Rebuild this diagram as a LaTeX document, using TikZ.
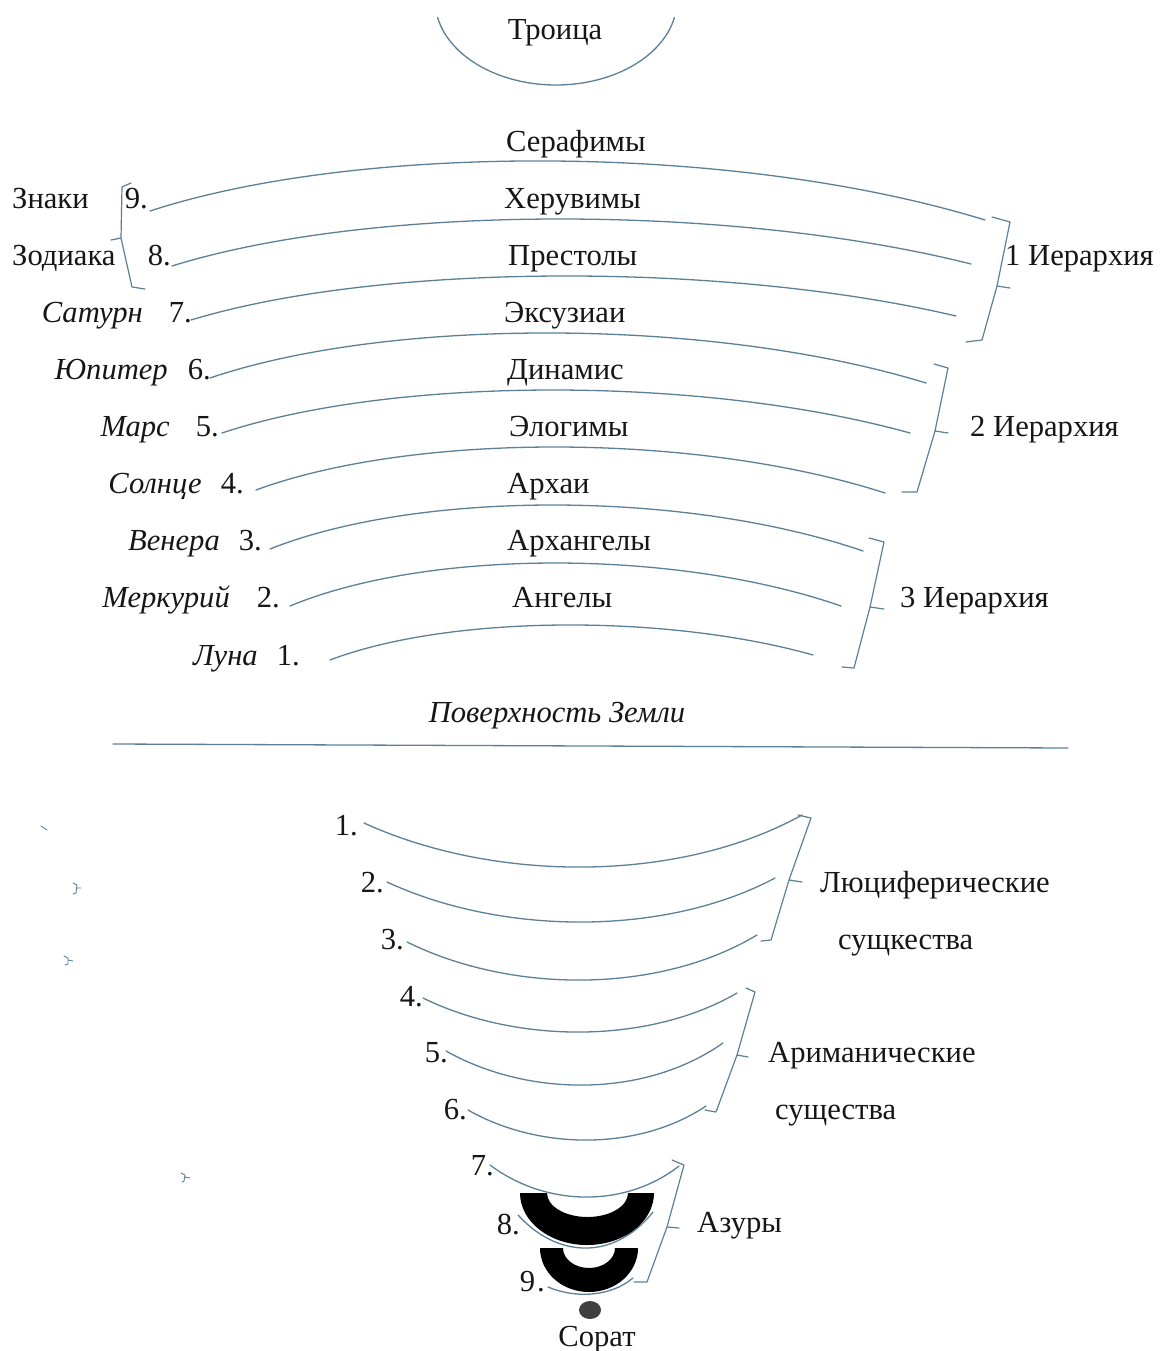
\documentclass[tikz,border=0pt]{standalone}
\usepackage{fontspec}
\setmainfont{Liberation Serif}
\definecolor{ink}{RGB}{92,128,152}
\definecolor{txt}{RGB}{22,22,22}
\newcommand\ArcCurve[5]{%
  \draw[ln] (#1,#2) .. controls ({#1+0.25*(#3-#1)},{(#5-0.125*(#2+#4))/0.75}) and ({#1+0.7*(#3-#1)},{(#5-0.125*(#2+#4))/0.75}) .. (#3,#4);}
\newcommand\BowlCurve[5]{%
  \draw[ln] (#1,#2) .. controls ({#1+0.3*(#3-#1)},{(#5-0.125*(#2+#4))/0.75}) and ({#1+0.72*(#3-#1)},{(#5-0.125*(#2+#4))/0.75}) .. (#3,#4);}
\begin{document}
\begin{tikzpicture}[x=1pt,y=-1pt,
  lbl/.style={font=\fontsize{30.6}{34}\selectfont, text=txt, inner sep=0pt},
  itl/.style={lbl, font=\fontsize{30.6}{34}\selectfont\itshape},
  ln/.style={draw=ink, line width=1.3pt, line cap=round, line join=round},
  brc/.style={draw=ink, line width=1.2pt, line cap=round, line join=round}]
\useasboundingbox (0,0) rectangle (1159,1351);
\fill[white] (0,0) rectangle (1159,1351);

% top
\node[lbl,anchor=base] (troica) at (555,40) {Троица};
\draw[ln] (556,0) ++(168:121 and 85) arc[start angle=168,end angle=12,x radius=121,y radius=85];

% hierarchy names
\node[lbl,anchor=base west] (h1) at (506,152) {Серафимы};
\node[lbl,anchor=base west] (h2) at (504,208) {Херувимы};
\node[lbl,anchor=base west] (h3) at (508,265) {Престолы};
\node[lbl,anchor=base west] (h4) at (504,322) {Эксузиаи};
\node[lbl,anchor=base west] (h5) at (507,379) {Динамис};
\node[lbl,anchor=base west] (h6) at (509,436) {Элогимы};
\node[lbl,anchor=base west] (h7) at (507,493) {Архаи};
\node[lbl,anchor=base west] (h8) at (507,550) {Архангелы};
\node[lbl,anchor=base west] (h9) at (512,607) {Ангелы};

% left labels
\node[lbl,anchor=base west] (zn) at (12,208) {Знаки};
\node[lbl,anchor=base west] (zd) at (12,265) {Зодиака};
\node[itl,anchor=base east] (p7) at (143,322) {Сатурн};
\node[itl,anchor=base east] (p6) at (168,379) {Юпитер};
\node[itl,anchor=base east] (p5) at (170,436) {Марс};
\node[itl,anchor=base east] (p4) at (202,493) {Солнце};
\node[itl,anchor=base east] (p3) at (220,550) {Венера};
\node[itl,anchor=base east] (p2) at (230,607) {Меркурий};
\node[itl,anchor=base east] (p1) at (258,665) {Луна};

\node[lbl,anchor=base east] (n9) at (148,208) {9.};
\node[lbl,anchor=base east] (n8) at (171,265) {8.};
\node[lbl,anchor=base east] (n7) at (192,322) {7.};
\node[lbl,anchor=base east] (n6) at (211,379) {6.};
\node[lbl,anchor=base east] (n5) at (219,436) {5.};
\node[lbl,anchor=base east] (n4) at (244,493) {4.};
\node[lbl,anchor=base east] (n3) at (262,550) {3.};
\node[lbl,anchor=base east] (n2) at (280,607) {2.};
\node[lbl,anchor=base east] (n1) at (300,665) {1.};

% upper arcs
\ArcCurve{150}{211}{985}{220}{161}
\ArcCurve{172}{266}{971}{264}{219}
\ArcCurve{191}{320}{956}{316}{276}
\ArcCurve{210}{378}{926}{383}{333}
\ArcCurve{222}{433}{910}{433}{390}
\ArcCurve{256}{490}{885}{493}{447}
\ArcCurve{270}{549}{863}{551}{505}
\ArcCurve{290}{606}{841}{606}{563}
\ArcCurve{330}{660}{813}{655}{625}

% left brace
\draw[brc] (131,183) -- (122,187) -- (121,238) -- (111,240) (121,238) -- (132,287) -- (145,289);

% right braces
\draw[brc] (992,217) -- (1010,222) -- (997,286) -- (1010,288) (997,286) -- (982,340) -- (966,342);
\draw[brc] (934,364) -- (948,368) -- (935,431) -- (948,433) (935,431) -- (917,492) -- (902,492);
\draw[brc] (869,538) -- (884,542) -- (870,607) -- (884,609) (870,607) -- (854,668) -- (842,667);

\node[lbl,anchor=base west] (i1) at (1005,265) {1 Иерархия};
\node[lbl,anchor=base west] (i2) at (970,436) {2 Иерархия};
\node[lbl,anchor=base west] (i3) at (900,607) {3 Иерархия};

% surface
\node[itl,anchor=base] (surf) at (557,722) {Поверхность Земли};
\coordinate (sl) at (113,744);
\coordinate (sr) at (1068,748);
\draw[ln] (sl) -- (sr);

% lower numbers
\node[lbl,anchor=base east] (m1) at (358,835) {1.};
\node[lbl,anchor=base east] (m2) at (384,892) {2.};
\node[lbl,anchor=base east] (m3) at (404,949) {3.};
\node[lbl,anchor=base east] (m4) at (423,1006) {4.};
\node[lbl,anchor=base east] (m5) at (448,1062) {5.};
\node[lbl,anchor=base east] (m6) at (467,1119) {6.};
\node[lbl,anchor=base east] (m7) at (494,1175) {7.};
\node[lbl,anchor=base east] (m8) at (520,1234) {8.};
\node[lbl,anchor=base east] (m9) at (545,1291) {9\hspace{2pt}.};

% lower bowls
\BowlCurve{364}{823}{802}{815}{867}
\BowlCurve{387}{882}{775}{878}{922}
\BowlCurve{407}{942}{757}{935}{980}
\BowlCurve{423}{998}{737}{993}{1032}
\BowlCurve{446}{1051}{723}{1043}{1085}
\BowlCurve{468}{1110}{706}{1106}{1140}
\BowlCurve{490}{1165}{679}{1166}{1197}
\BowlCurve{518}{1215}{653}{1212}{1248}
\BowlCurve{548}{1287}{633}{1278}{1294}

% black bands
\fill[black] (520,1193) arc[start angle=180,end angle=0,x radius=67,y radius=52] -- (628,1193) arc[start angle=0,end angle=180,x radius=40.5,y radius=24] -- cycle;
\fill[black] (540,1248) arc[start angle=180,end angle=0,x radius=49,y radius=44] -- (615,1248) arc[start angle=0,end angle=180,x radius=26,y radius=20] -- cycle;
\fill[black!75] (590,1310) ellipse[x radius=11,y radius=9];

% lower braces
\draw[brc] (798,815) -- (811,818) -- (789,880) -- (802,882) (789,880) -- (771,940) -- (761,941);
\draw[brc] (746,988) -- (755,992) -- (737,1055) -- (748,1057) (737,1055) -- (716,1112) -- (705,1110);
\draw[brc] (672,1160) -- (684,1165) -- (667,1227) -- (679,1228) (667,1227) -- (647,1282) -- (634,1282);

\node[lbl,anchor=base west] (luc) at (820,892) {Люциферические};
\node[lbl,anchor=base west] (luc2) at (838,949) {сущкества};
\node[lbl,anchor=base west] (ahr) at (768,1062) {Ариманические};
\node[lbl,anchor=base west] (ahr2) at (775,1119) {существа};
\node[lbl,anchor=base west] (az) at (697,1232) {Азуры};
\node[lbl,anchor=base] (sor) at (597,1346) {Сорат};

% stray marks
\draw[brc,line width=0.9pt] (41,826) -- (47,830);
\draw[brc,line width=0.9pt] (73,883) -- (77,885) -- (76,893) -- (73,894) (76,888) -- (81,888);
\draw[brc,line width=0.9pt] (64,956) -- (68,958) -- (68,964) -- (65,965) (68,960) -- (73,961);
\draw[brc,line width=0.9pt] (181,1173) -- (185,1175) -- (184,1181) -- (182,1182) (185,1177) -- (190,1178);
\end{tikzpicture}
\end{document}
